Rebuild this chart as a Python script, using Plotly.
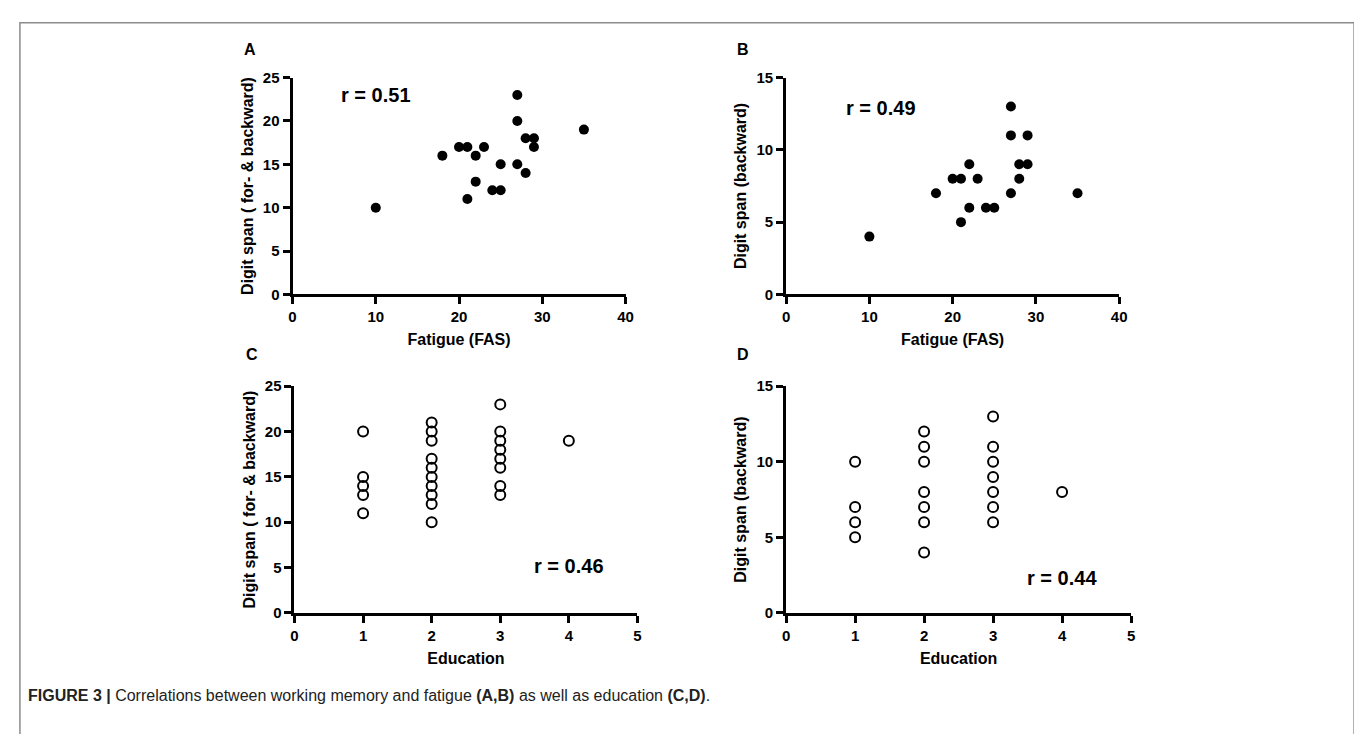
import plotly.graph_objects as go

W, H = 1362, 734

# Panel A: fatigue vs digit span (forward & backward)
fatigue_A = [10, 18, 20, 21, 22, 23, 21, 22, 24, 25, 25, 27, 27, 27, 28, 28, 29, 29, 35]
span_total_A = [10, 16, 17, 17, 16, 17, 11, 13, 12, 12, 15, 23, 20, 15, 18, 14, 18, 17, 19]

# Panel B: fatigue vs digit span (backward)
fatigue_B = [10, 18, 20, 21, 21, 22, 22, 23, 24, 25, 27, 27, 27, 28, 28, 29, 29, 35]
span_back_B = [4, 7, 8, 8, 5, 9, 6, 8, 6, 6, 13, 11, 7, 9, 8, 11, 9, 7]

# Panel C: education vs digit span (forward & backward)
edu_C = [1] * 5 + [2] * 10 + [3] * 8 + [4]
span_total_C = [20, 15, 14, 13, 11,
                21, 20, 19, 17, 16, 15, 14, 13, 12, 10,
                23, 20, 19, 18, 17, 16, 14, 13,
                19]

# Panel D: education vs digit span (backward)
edu_D = [1] * 4 + [2] * 7 + [3] * 7 + [4]
span_back_D = [10, 7, 6, 5,
               12, 11, 10, 8, 7, 6, 4,
               13, 11, 10, 9, 8, 7, 6,
               8]

r_labels = ["r = 0.51", "r = 0.49", "r = 0.46", "r = 0.44"]
r_pos = [(10, 23), (11.4, 12.9), (4.0, 5.2), (4.0, 2.3)]
panel_letters = ["A", "B", "C", "D"]

FONT = "Liberation Sans Narrow, Liberation Sans, Arial, sans-serif"

# pixel boxes: (x0, x1, ytop, ybottom)
boxes = [(283, 619, 62, 284), (781, 1117, 62, 284),
         (285, 631, 378, 610), (781, 1129, 378, 610)]
letter_gap = [29, 29, 33, 33]

def dom_x(a, b):
    return [a / W, b / W]

def dom_y(top, bot):
    return [(H - bot) / H, (H - top) / H]

fig = go.Figure()

fig.add_trace(go.Scatter(x=fatigue_A, y=span_total_A, mode="markers", xaxis="x", yaxis="y",
                         marker=dict(color="black", size=10), showlegend=False))
fig.add_trace(go.Scatter(x=fatigue_B, y=span_back_B, mode="markers", xaxis="x2", yaxis="y2",
                         marker=dict(color="black", size=10), showlegend=False))
fig.add_trace(go.Scatter(x=edu_C, y=span_total_C, mode="markers", xaxis="x3", yaxis="y3",
                         marker=dict(symbol="circle-open", color="black", size=10,
                                     line=dict(width=2, color="black")), showlegend=False))
fig.add_trace(go.Scatter(x=edu_D, y=span_back_D, mode="markers", xaxis="x4", yaxis="y4",
                         marker=dict(symbol="circle-open", color="black", size=10,
                                     line=dict(width=2, color="black")), showlegend=False))

x_titles = ["Fatigue (FAS)", "Fatigue (FAS)", "Education", "Education"]
y_titles = ["Digit span ( for- & backward)", "Digit span (backward)",
            "Digit span ( for- & backward)", "Digit span (backward)"]
x_ranges = [[0, 40], [0, 40], [0, 5], [0, 5]]
x_dticks = [10, 10, 1, 1]
y_ranges = [[0, 25], [0, 15], [0, 25], [0, 15]]
y_dticks = [5, 5, 5, 5]

axis_common = dict(showline=True, linewidth=3, linecolor="black", ticks="outside",
                   ticklen=7, tickwidth=3, tickcolor="black", showgrid=False,
                   zeroline=False, fixedrange=True,
                   tickfont=dict(family=FONT, size=15, color="black", weight="bold"),
                   title_font=dict(family=FONT, size=16, color="black", weight="bold"))

layout = dict(width=W, height=H, margin=dict(l=0, r=0, t=0, b=0),
              paper_bgcolor="white", plot_bgcolor="white", showlegend=False)

annotations = []
for i in range(4):
    sfx = "" if i == 0 else str(i + 1)
    x0, x1, yt, yb = boxes[i]
    layout["xaxis" + sfx] = dict(axis_common, domain=dom_x(x0, x1), range=x_ranges[i],
                                 dtick=x_dticks[i], tick0=0, anchor="y" + sfx,
                                 title=dict(text=x_titles[i], standoff=10))
    layout["yaxis" + sfx] = dict(axis_common, domain=dom_y(yt, yb), range=y_ranges[i],
                                 dtick=y_dticks[i], tick0=0, anchor="x" + sfx,
                                 title=dict(text=y_titles[i], standoff=6))
    rx, ry = r_pos[i]
    annotations.append(dict(text="<b>" + r_labels[i] + "</b>", x=rx, y=ry,
                            xref="x" + sfx, yref="y" + sfx, showarrow=False,
                            font=dict(family="Liberation Sans, Arial", size=20, color="black")))
    annotations.append(dict(text="<b>" + panel_letters[i] + "</b>", x=(x0 - 43) / W,
                            y=(H - (yt - letter_gap[i])) / H, xref="paper", yref="paper",
                            showarrow=False, xanchor="center", yanchor="middle",
                            font=dict(family="Liberation Sans, Arial", size=16, color="black")))

annotations.append(dict(
    text="<b>FIGURE 3 |</b> Correlations between working memory and fatigue <b>(A,B)</b> "
         "as well as education <b>(C,D)</b>.",
    x=14 / W, y=(H - 695) / H, xref="paper", yref="paper", xanchor="left", yanchor="middle",
    showarrow=False, font=dict(family=FONT, size=16, color="#222222")))

layout["annotations"] = annotations
layout["shapes"] = [dict(type="rect", xref="paper", yref="paper",
                         x0=8 / W, x1=1354 / W, y0=-0.05, y1=(H - 6) / H,
                         line=dict(color="#8c8c8c", width=1.5), fillcolor="rgba(0,0,0,0)",
                         layer="below")]

fig.update_layout(**layout)
fig.write_html("out.html", include_plotlyjs=True, config={"displayModeBar": False})
